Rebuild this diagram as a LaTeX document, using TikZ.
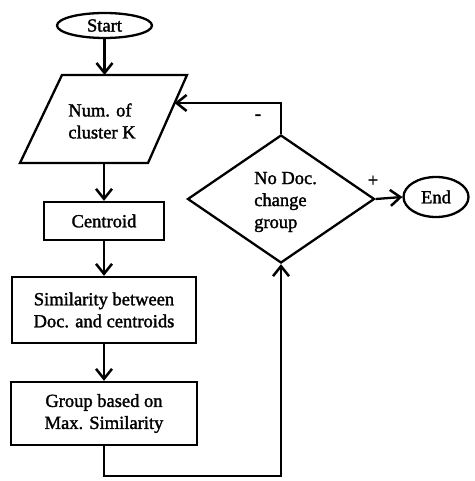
\documentclass[tikz,border=0pt]{standalone}
\usepackage{fontspec}
\setmainfont{Liberation Serif}[BoldFont=Liberation Serif,BoldFeatures={FakeBold=1.6}]
\usetikzlibrary{shapes.geometric,arrows.meta,calc}
\begin{document}
\begin{tikzpicture}[x=1pt,y=-1pt,
  every node/.style={font=\fontsize{18.5}{22}\selectfont\bfseries},
  box/.style={draw,line width=2.3pt,inner sep=0pt,align=center},
  term/.style={draw,ellipse,line width=2.3pt,inner sep=0pt},
  conn/.style={line width=2.3pt,-{Straight Barb[length=10pt,width=16pt,line width=2.5pt]}},
  plainline/.style={line width=2.3pt,line join=miter}]
\useasboundingbox (0,0) rectangle (474,481);
% start
\node[term,minimum width=95pt,minimum height=25pt] (start) at (104.5,25.5) {Start};
% parallelogram
\coordinate (pTL) at (62,75);
\coordinate (pTR) at (187,75);
\coordinate (pBR) at (148,163);
\coordinate (pBL) at (20,163);
\coordinate (pbot) at (104,163);
\draw[plainline] (pTL) -- (pTR) -- (pBR) -- (pBL) -- cycle;
\node[align=left,inner sep=0pt] (par) at (102,121) {Num. of\\cluster K};
% boxes
\node[box,minimum width=120pt,minimum height=38pt] (cen) at (104,221) {Centroid};
\node[box,minimum width=184pt,minimum height=66pt] (sim) at (104,310) {Similarity between\\Doc. and centroids};
\node[box,minimum width=186pt,minimum height=63pt] (grp) at (104,413.5) {Group based on\\Max. Similarity};
% decision
\node[draw,diamond,line width=2.3pt,minimum width=187pt,minimum height=128pt,inner sep=0pt] (dec) at (281,199) {};
\node[align=left,inner sep=0pt,anchor=west] (dect) at (254,202) {No Doc.\\change\\group};
\node[term,minimum width=65pt,minimum height=40pt] (end) at (436,197) {End};
% labels
\node[inner sep=0pt] (minus) at (258,117) {-};
\node[inner sep=0pt] (plus) at (373,181) {+};
% connectors
\draw[conn] (start.south) -- (start.south |- pTL);
\draw[conn] (pbot) -- (cen.north);
\draw[conn] (cen.south) -- (sim.north);
\draw[conn] (sim.south) -- (grp.north);
\draw[conn] (grp.south) -- ++(0,30) -| (dec.south);
\draw[conn] (dec.north) |- ($(pTR)!0.318!(pBR)$);
\draw[conn] (dec.east) -- (end.west);
\end{tikzpicture}
\end{document}
